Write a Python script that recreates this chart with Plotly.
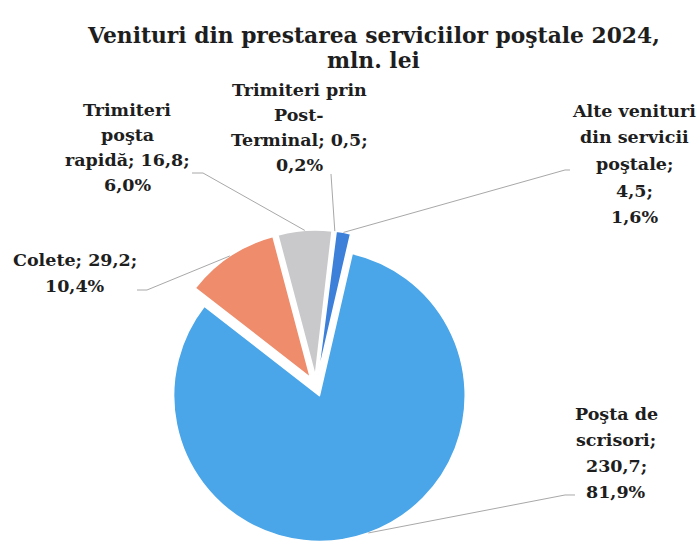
import math
import plotly.graph_objects as go

# ---------------- data ----------------
categories = ["Poşta de scrisori", "Colete", "Trimiteri poşta rapidă",
              "Trimiteri prin Post-Terminal", "Alte venituri din servicii poştale"]
values = [230.7, 29.2, 16.8, 0.5, 4.5]
# how the category names wrap in the outside labels
wrapped_names = ["Poşta de<br>scrisori", "Colete", "Trimiteri<br>poşta<br>rapidă",
                 "Trimiteri prin<br>Post-<br>Terminal", "Alte venituri<br>din servicii<br>poştale"]
colors = ["#4AA6E8", "#EE8C6C", "#C9C9CC", "#F6E7B8", "#3D80DA"]

# ---------------- layout constants ----------------
W, H = 697, 542
CX, CY, HALF = 316.0, 386.0, 156.0      # pie domain centre / half-size (px)
PULL = 0.07
ROT = 13.0                                # start angle of first slice (deg, clockwise)

sep1 = ["<br>", " ", " ", " ", "<br>"]
# label placement: centre x, first-line y, line spacing (px)
label_pos = [(616, 414, 26), (75, 260, 26), (127, 110, 25), (299, 90, 25), (634, 111, 26.5)]
# leader line: label-side points (px), then to slice edge
leader_pts = [[(575, 495), (565, 495)],
              [(137, 290), (147, 290)],
              [(192, 173), (203, 173)],
              [(331, 174)],
              [(570, 170), (565, 170)]]

total = sum(values)
def fmt(v, d=1):
    return f"{v:.{d}f}".replace(".", ",")

pcts = [fmt(v / total * 100) + "%" for v in values]
texts = [f"{n};{s}{fmt(v)};<br>{p}" for n, s, v, p in zip(wrapped_names, sep1, values, pcts)]

fig = go.Figure(go.Pie(
    labels=categories, values=values, sort=False, direction="clockwise",
    rotation=ROT, pull=[PULL] * len(values),
    marker=dict(colors=colors, line=dict(color="white", width=1.5)),
    textinfo="none", showlegend=False,
    domain=dict(x=[(CX - HALF) / W, (CX + HALF) / W],
                y=[(H - (CY + HALF)) / H, (H - (CY - HALF)) / H]),
))

def px2paper(x, y):
    return x / W, 1 - y / H

font = dict(family="DejaVu Serif", size=17.5, color="#1e1e1e", weight="bold")
r = HALF / (1 + PULL)
annotations = []
shapes = []
cum = 0.0
for i, v in enumerate(values):
    mid = math.radians(ROT + (cum + v / 2) / total * 360)
    cum += v
    dx, dy = math.sin(mid), -math.cos(mid)
    ax, ay = CX + (r * (1 + PULL)) * dx, CY + (r * (1 + PULL)) * dy
    pts = leader_pts[i] + [(ax, ay)]
    path = ""
    for k, (x, y) in enumerate(pts):
        px, py = px2paper(x, y)
        path += ("M" if k == 0 else " L") + f" {px:.5f} {py:.5f}"
    shapes.append(dict(type="path", path=path, xref="paper", yref="paper",
                       line=dict(color="#A8A8A8", width=1)))
    lx, ly0, sp = label_pos[i]
    for j, line in enumerate(texts[i].split("<br>")):
        px, py = px2paper(lx, ly0 + j * sp)
        annotations.append(dict(text=line, x=px, y=py, xref="paper", yref="paper",
                                xanchor="center", yanchor="middle", showarrow=False,
                                font=font))

# title, one annotation per line
title_lines = ["Venituri din prestarea serviciilor poştale 2024,", "mln. lei"]
for j, line in enumerate(title_lines):
    px, py = px2paper(373, 35 + j * 25)
    annotations.append(dict(text=line, x=px, y=py, xref="paper", yref="paper",
                            xanchor="center", yanchor="middle", showarrow=False,
                            font=dict(family="DejaVu Serif", size=21.8, color="#1e1e1e",
                                      weight="bold")))

fig.update_layout(
    width=W, height=H,
    margin=dict(l=0, r=0, t=0, b=0),
    paper_bgcolor="white", plot_bgcolor="white",
    annotations=annotations, shapes=shapes,
)

fig.write_html("out.html")
